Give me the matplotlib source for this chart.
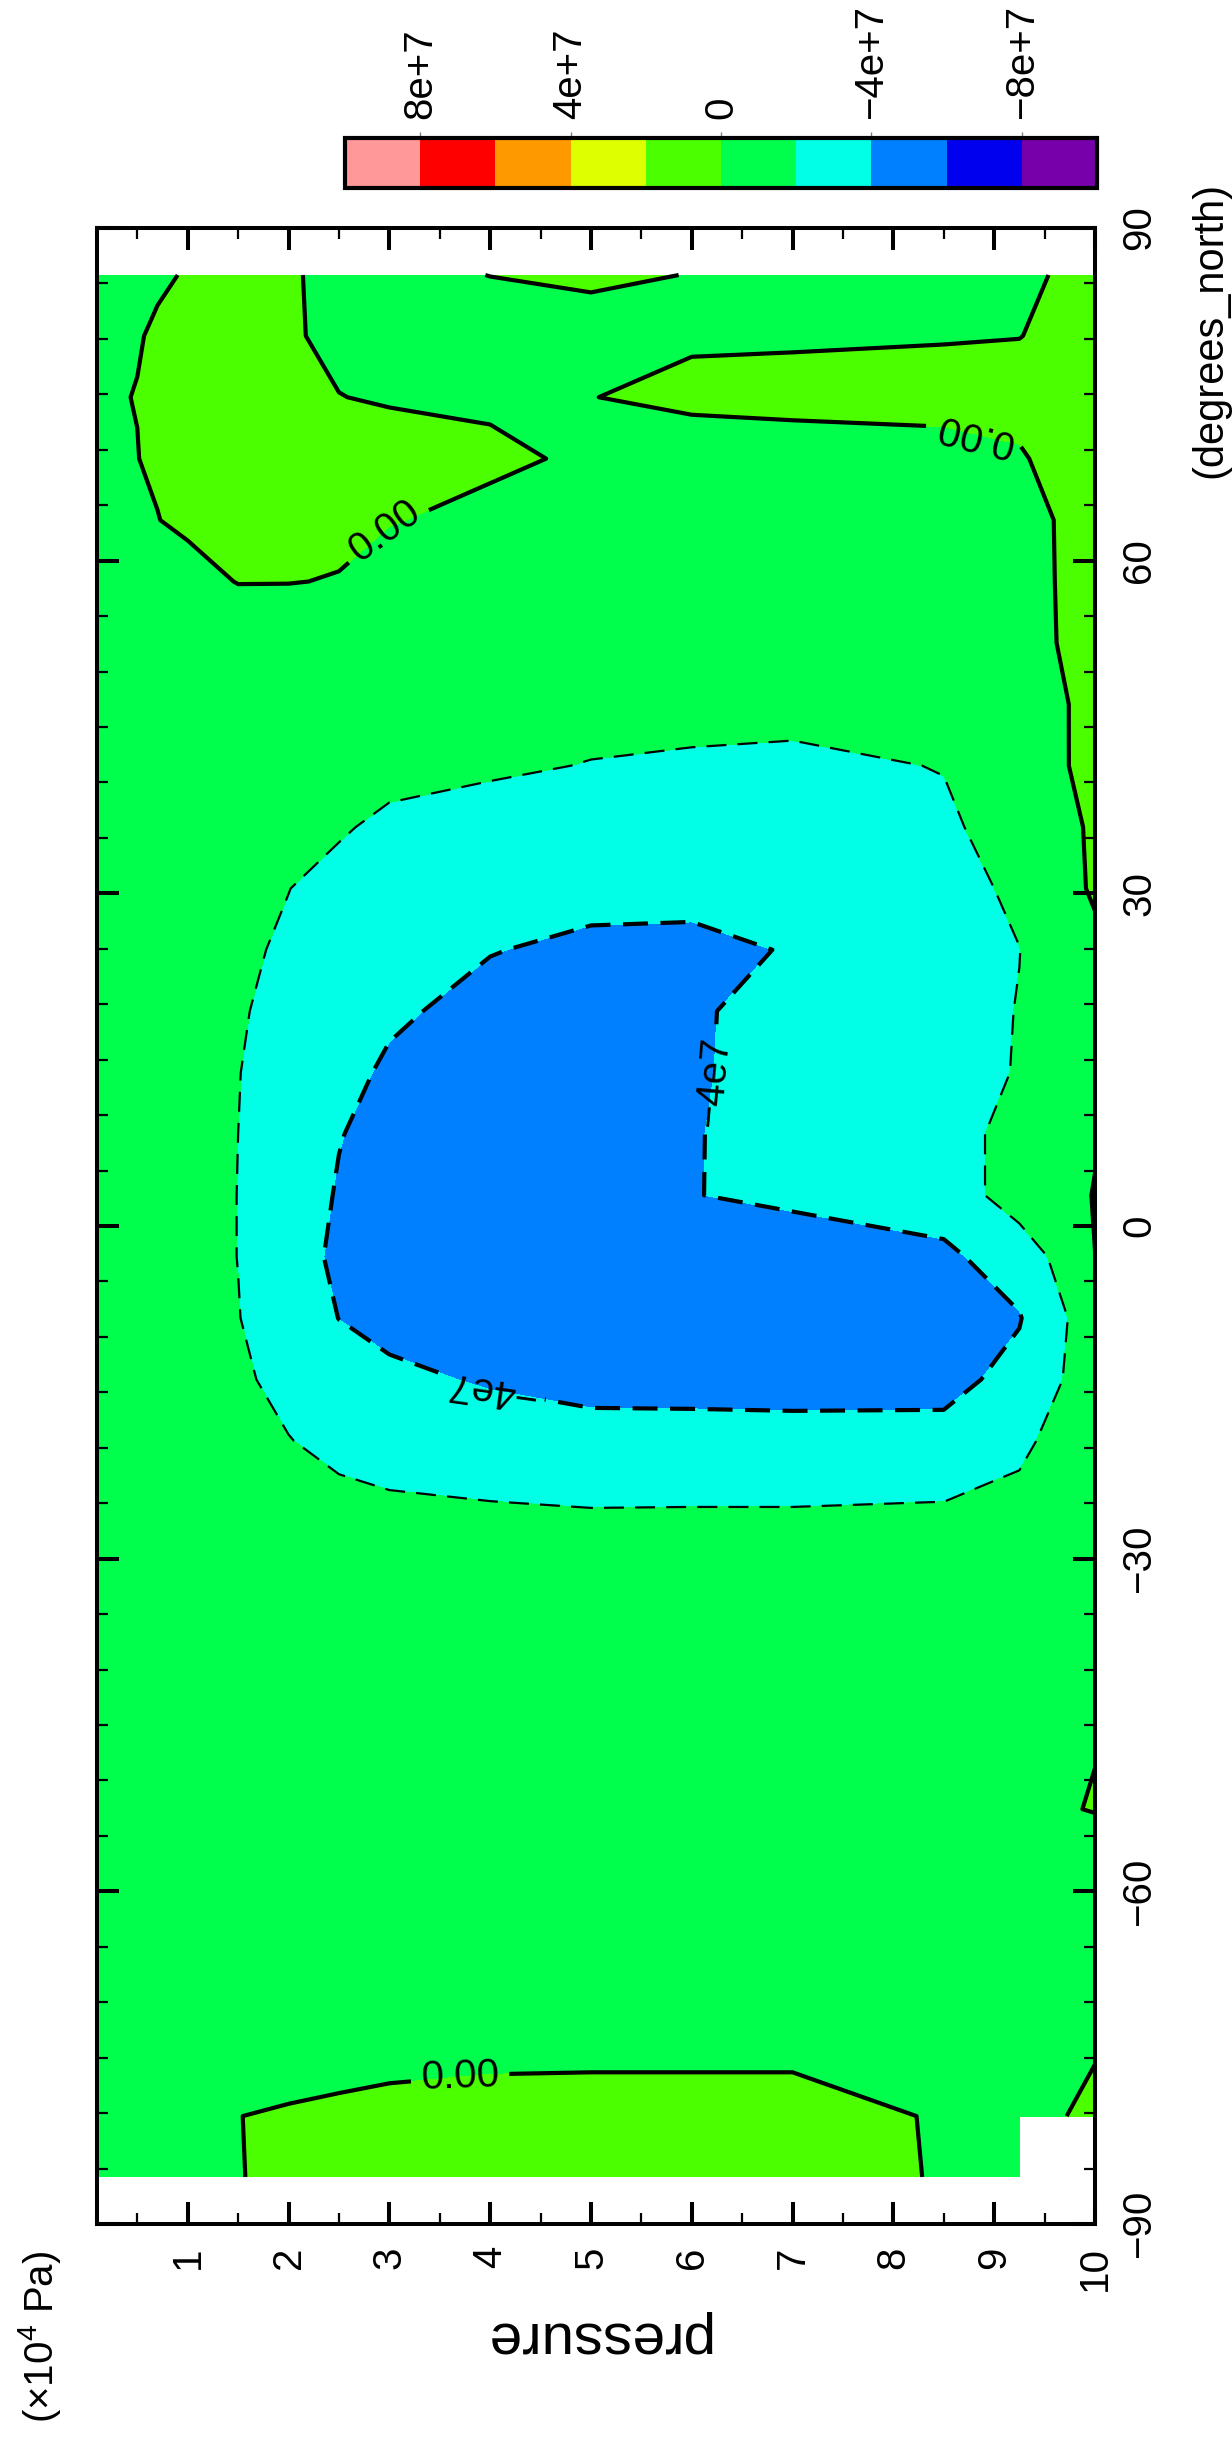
import numpy as np
import matplotlib.pyplot as plt
from matplotlib.colors import ListedColormap, BoundaryNorm
from matplotlib.cm import ScalarMappable
from matplotlib.ticker import MultipleLocator

plt.rcParams['font.family'] = ['Liberation Sans', 'DejaVu Sans']
plt.rcParams['mathtext.default'] = 'regular'

# Grid of the field: T21 gaussian latitudes and pressure levels (x10^4 Pa)
lats = [-85.76, -80.27, -74.74, -69.20, -63.66, -58.12, -52.59, -47.05,
        -41.51, -35.98, -30.44, -24.91, -19.37, -13.84, -8.30, -2.77,
        2.77, 8.30, 13.84, 19.37, 24.91, 30.44, 35.98, 41.51,
        47.05, 52.59, 58.12, 63.66, 69.20, 74.74, 80.27, 85.76]
plevs = [0.1, 0.2, 0.3, 0.5, 0.7, 1.0, 1.5, 2.0, 2.5, 3.0, 4.0, 5.0, 6.0, 7.0, 8.5, 9.25, 10.0]

# Field values, in units of 1e7 (one row per latitude, one column per level)
psi_rows = [
    [-0.02, -0.04, -0.05, -0.06, -0.07, -0.08, -0.05, 0.3, 0.4, 0.45, 0.5, 0.5, 0.5, 0.3, -0.05, -0.1, np.nan],
    [-0.02, -0.03, -0.04, -0.05, -0.05, -0.04, -0.005, 0.05, 0.12, 0.23, 0.43, 0.5, 0.5, 0.5, -0.11, -0.1, 0.06],
    [-0.02, -0.04, -0.06, -0.1, -0.13, -0.15, -0.18, -0.2, -0.2, -0.2, -0.2, -0.2, -0.2, -0.2, -0.2, -0.15, -0.011],
    [-0.03, -0.05, -0.08, -0.12, -0.16, -0.2, -0.25, -0.28, -0.3, -0.3, -0.3, -0.3, -0.3, -0.3, -0.28, -0.2, -0.05],
    [-0.03, -0.06, -0.09, -0.14, -0.18, -0.22, -0.28, -0.32, -0.34, -0.35, -0.35, -0.35, -0.35, -0.35, -0.32, -0.25, -0.08],
    [-0.03, -0.06, -0.09, -0.14, -0.18, -0.23, -0.3, -0.34, -0.36, -0.37, -0.38, -0.38, -0.38, -0.38, -0.36, -0.35, -0.3],
    [-0.03, -0.06, -0.09, -0.14, -0.18, -0.23, -0.3, -0.35, -0.38, -0.4, -0.4, -0.4, -0.4, -0.38, -0.3, -0.1, 0.02],
    [-0.03, -0.06, -0.1, -0.15, -0.2, -0.26, -0.34, -0.4, -0.44, -0.46, -0.48, -0.48, -0.48, -0.46, -0.38, -0.2, -0.01],
    [-0.03, -0.07, -0.11, -0.17, -0.23, -0.3, -0.4, -0.48, -0.53, -0.56, -0.6, -0.62, -0.62, -0.6, -0.5, -0.3, -0.1],
    [-0.03, -0.07, -0.11, -0.18, -0.25, -0.33, -0.45, -0.55, -0.62, -0.67, -0.72, -0.75, -0.75, -0.73, -0.65, -0.45, -0.15],
    [-0.03, -0.06, -0.1, -0.17, -0.25, -0.37, -0.55, -0.7, -0.8, -0.85, -0.9, -0.92, -0.92, -0.92, -0.9, -0.7, -0.25],
    [-0.06, -0.12, -0.2, -0.35, -0.5, -0.75, -1.1, -1.4, -1.64, -1.82, -1.98, -2.11, -2.09, -2.09, -1.99, -1.47, -0.5],
    [-0.1, -0.2, -0.3, -0.5, -0.7, -1.0, -1.5, -1.95, -2.43, -2.73, -3.1, -3.34, -3.36, -3.4, -3.5, -2.49, -0.3],
    [-0.12, -0.24, -0.36, -0.6, -0.85, -1.2, -1.75, -2.44, -3.22, -3.63, -4.18, -4.57, -4.59, -4.63, -4.49, -3.5, -0.88],
    [-0.14, -0.27, -0.41, -0.68, -0.95, -1.3, -1.95, -3.0, -4.02, -4.54, -5.0, -5.3, -5.4, -5.4, -5.0, -4.1, -0.82],
    [-0.14, -0.28, -0.42, -0.7, -1.0, -1.35, -2.02, -3.3, -4.3, -4.8, -5.2, -5.4, -5.3, -5.0, -4.32, -3.18, -0.006],
    [-0.14, -0.28, -0.42, -0.7, -1.0, -1.35, -2.02, -3.3, -4.1, -4.5, -4.8, -4.6, -4.05, -3.64, -3.2, -1.0, 0.05],
    [-0.14, -0.28, -0.42, -0.7, -1.0, -1.35, -2.0, -3.0, -3.95, -4.4, -4.7, -4.5, -4.06, -3.6, -2.6, -1.5, -0.09],
    [-0.13, -0.26, -0.4, -0.66, -0.95, -1.3, -1.95, -2.9, -3.6, -4.2, -4.6, -4.5, -4.1, -3.65, -2.7, -1.9, -0.3],
    [-0.12, -0.24, -0.37, -0.62, -0.9, -1.22, -1.85, -2.5, -3.1, -3.8, -4.4, -4.4, -4.1, -3.7, -2.6, -1.95, -0.3],
    [-0.11, -0.22, -0.33, -0.55, -0.8, -1.15, -1.75, -2.2, -2.7, -3.15, -3.95, -4.25, -4.2, -3.95, -2.9, -2.02, -0.4],
    [-0.1, -0.2, -0.3, -0.5, -0.72, -1.03, -1.55, -1.98, -2.45, -2.8, -3.3, -3.62, -3.76, -3.6, -2.6, -1.7, 0.23],
    [-0.08, -0.17, -0.26, -0.42, -0.6, -0.85, -1.2, -1.5, -1.85, -2.3, -2.6, -2.8, -2.85, -2.8, -2.15, -1.6, 0.3],
    [-0.06, -0.13, -0.2, -0.32, -0.45, -0.65, -0.9, -1.1, -1.35, -1.55, -1.8, -2.05, -2.15, -2.18, -1.97, -1.4, 0.74],
    [-0.05, -0.1, -0.15, -0.25, -0.35, -0.5, -0.7, -0.85, -1.0, -1.15, -1.35, -1.55, -1.65, -1.74, -1.6, -1.15, 0.61],
    [-0.03, -0.06, -0.1, -0.15, -0.2, -0.3, -0.45, -0.55, -0.65, -0.75, -0.9, -1.0, -1.05, -1.05, -0.95, -0.6, 0.62],
    [-0.02, -0.03, -0.05, -0.08, -0.12, -0.2, 0.02, 0.02, -0.03, -0.25, -0.5, -0.65, -0.75, -0.75, -0.7, -0.45, 0.51],
    [-0.01, -0.01, -0.02, -0.02, -0.01, 0.1, 0.2, 0.2, 0.15, 0.03, -0.15, -0.3, -0.4, -0.4, -0.35, -0.2, 0.24],
    [-0.02, -0.015, -0.01, -0.005, 0.05, 0.15, 0.25, 0.3, 0.3, 0.25, 0.1, -0.08, -0.15, -0.15, -0.1, -0.03, 0.2],
    [-0.02, -0.015, -0.01, 0.005, 0.05, 0.12, 0.15, 0.12, 0.01, -0.05, -0.08, -0.005, 0.06, 0.09, 0.092, 0.1, 0.2],
    [-0.015, -0.012, -0.01, -0.01, 0.02, 0.08, 0.1, 0.06, -0.115, -0.1, -0.08, -0.05, -0.031, -0.033, -0.015, -0.005, 0.1],
    [-0.005, -0.01, -0.015, -0.02, -0.02, 0.01, 0.05, 0.02, -0.05, -0.04, 0.002, 0.02, -0.003, -0.03, -0.05, -0.05, 0.08],
]
scale = 1e7

# Shading intervals and their colours (low -> high)
bounds = [-10e7, -8e7, -6e7, -4e7, -2e7, 0, 2e7, 4e7, 6e7, 8e7, 10e7]
colors = ['#7700aa', '#0000ee', '#0080ff', '#00ffe6', '#00ff4c',
          '#4cff00', '#ddff00', '#ff9900', '#ff0000', '#ff9999']
cbar_ticks = [8e7, 4e7, 0, -4e7, -8e7]
cbar_labels = ['8e+7', '4e+7', '0', '\u22124e+7', '\u22128e+7']

psi = np.ma.masked_invalid(np.array(psi_rows) * scale)

fig = plt.figure(figsize=(12.32, 24.42), dpi=100)
ax = fig.add_axes([97 / 1232, 218 / 2442, 998 / 1232, 1996 / 2442])

# corner_mask=False blanks the whole grid box next to the missing point
ax.contourf(plevs, lats, psi, levels=bounds, colors=colors, corner_mask=False)

# One contour set per line style: -2e7 thin dashed, -4e7 thick dashed, 0 solid
cs2 = ax.contour(plevs, lats, psi, levels=[-2e7], colors='k', linewidths=1.6,
                 linestyles=[(0, (9, 5))], corner_mask=False)
cs4 = ax.contour(plevs, lats, psi, levels=[-4e7], colors='k', linewidths=3.0,
                 linestyles=[(0, (6, 3))], corner_mask=False)
cs0 = ax.contour(plevs, lats, psi, levels=[0], colors='k', linewidths=3.0,
                 linestyles='solid', corner_mask=False)

# Contour labels placed where the reference has them, with its orientations
label_spots = [(cs0, '0.00', (3.0, 62.3), 36), (cs0, '0.00', (8.8, 71.3), 166),
               (cs0, '0.00', (3.7, -76.6), 2),
               (cs4, '\u22124e7', (6.25, 12.9), 85), (cs4, '\u22124e7', (4.0, -14.9), 172)]
for cs, txt_str, pos, ang in label_spots:
    txt = cs.clabel(manual=[pos], fmt=lambda v, s=txt_str: s, fontsize=29,
                    inline=True, inline_spacing=10)[-1]
    txt.set_rotation(ang)

# Axes: pressure horizontal, latitude vertical (labels on the right)
ax.set_xlim(0.1, 10)
ax.set_ylim(-90, 90)
ax.set_xticks(range(1, 11))
ax.set_xticklabels([str(i) for i in range(1, 11)])
ax.xaxis.set_minor_locator(MultipleLocator(0.5))
ax.set_yticks([-90, -60, -30, 0, 30, 60, 90])
ax.set_yticklabels(['\u221290', '\u221260', '\u221230', '0', '30', '60', '90'])
ax.yaxis.set_minor_locator(MultipleLocator(5))

ax.tick_params(which='both', direction='in', top=True, bottom=True, left=True, right=True,
               labelleft=False, labelright=True, labelsize=29)
ax.tick_params(which='major', length=16, width=2.9)
ax.tick_params(which='minor', length=8, width=1.6)
ax.tick_params(axis='x', labelrotation=90, pad=16)
ax.tick_params(axis='y', labelrotation=90, pad=18)
for lbl in ax.get_yticklabels():
    lbl.set_va('center')
for sp in ax.spines.values():
    sp.set_linewidth(2.9)

# Colour bar along the top, high values on the left
cax = fig.add_axes([345 / 1232, 1 - 188 / 2442, 752 / 1232, 50 / 2442])
cb = fig.colorbar(ScalarMappable(norm=BoundaryNorm(bounds, len(colors)), cmap=ListedColormap(colors)),
                  cax=cax, orientation='horizontal', drawedges=True)
cb.set_ticks(cbar_ticks)
cb.set_ticklabels(cbar_labels)
cb.minorticks_off()
cax.invert_xaxis()
cax.xaxis.set_ticks_position('top')
cax.tick_params(axis='x', labelrotation=90, labelsize=29, length=4, width=1, color='gray', pad=10)
cb.outline.set_linewidth(3)
cb.dividers.set_linewidth(3)
cb.dividers.set_color('k')

# Axis titles and units, oriented as in the reference
fig.text(1210 / 1232, 1 - 330 / 2442, '(degrees_north)', rotation=90, ha='center', va='center', fontsize=30)
fig.text(596 / 1232, 1 - 2337 / 2442, 'pressure', rotation=180, ha='center', va='center', fontsize=42)
fig.text(40 / 1232, 1 - 2337 / 2442, '(\u00d710$^4$ Pa)', rotation=90, ha='center', va='center', fontsize=29)

plt.savefig('out.png', dpi=100)
